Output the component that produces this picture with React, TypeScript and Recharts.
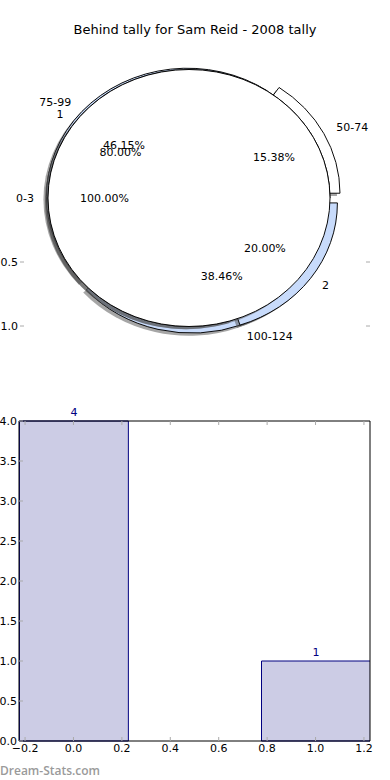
import React from "react";
import {
  Bar,
  Cell,
  ComposedChart,
  LabelList,
  Pie,
  PieChart,
  Sector,
  XAxis,
  YAxis,
} from "recharts";

const TITLE = "Behind tally for Sam Reid - 2008 tally";

// pie layers, drawn bottom to top
const RANGE_NAMES = ["50-74", "75-99", "100-124"];
const RANGE_COUNTS = [2, 6, 5];
const GAP_NAMES = ["1", "2"];
const GAP_COUNTS = [4, 1];
const START_NAMES = ["0-3"];
const START_COUNTS = [1];
const PIE_AXIS_TICKS = [0.5, 1.0];

// histogram below
const BIN_X = [0, 1];
const BIN_COUNTS = [4, 1];
const X_TICKS = [-0.2, 0, 0.2, 0.4, 0.6, 0.8, 1.0, 1.2];
const Y_TICKS = [0, 0.5, 1, 1.5, 2, 2.5, 3, 3.5, 4];

const FONT = "'DejaVu Sans', sans-serif";
const TICK_GRAY = "#aaaaaa";
const WHITE = "#ffffff";
const PALE = "#c8dbfb";
const CX = 189;
const CY = 198;
const R = 141;
const SQUASH = 128.5 / 141; // pie axes are not square
const BAR_W = 0.45;
const X_DOMAIN = [-0.225, 1.225];

const LAYERS = [
  { key: "range", names: RANGE_NAMES, counts: RANGE_COUNTS, colors: [WHITE, PALE, PALE], explode: [0.08, 0.015, 0.055] },
  { key: "gap", names: GAP_NAMES, counts: GAP_COUNTS, colors: [WHITE, PALE], explode: [0, 0.065] },
  { key: "start", names: START_NAMES, counts: START_COUNTS, colors: [WHITE], explode: [0] },
];

const rows = (l: any) => l.names.map((name: string, i: number) => ({ name, value: l.counts[i] }));

const explodeOf = (l: any, p: any) => l.explode[l.names.indexOf(p.name ?? p.payload?.name)] ?? 0;

function explodeShape(l: any) {
  return (p: any) => {
    const e = explodeOf(l, p);
    const a = (-p.midAngle * Math.PI) / 180;
    const cx = p.cx + e * p.outerRadius * Math.cos(a);
    const cy = p.cy + e * p.outerRadius * Math.sin(a);
    if (Math.abs(p.endAngle - p.startAngle) >= 359.99) {
      // a lone 100% wedge: no radial seam
      return (
        <circle cx={cx} cy={cy} r={p.outerRadius} fill={p.fill} fillOpacity={p.fillOpacity}
          stroke={p.stroke} strokeWidth={p.strokeWidth} />
      );
    }
    return <Sector {...p} cx={cx} cy={cy} />;
  };
}

function pieLabel(l: any) {
  return (p: any) => {
    const e = explodeOf(l, p);
    const a = (-p.midAngle * Math.PI) / 180;
    const c = Math.cos(a);
    const s = Math.sin(a);
    const r = p.outerRadius;
    const unsquash = `scale(1 ${1 / SQUASH})`;
    return (
      <g>
        <text
          transform={`translate(${p.cx + (1.1 + e) * r * c} ${p.cy + (1.1 + e) * r * s}) ${unsquash}`}
          textAnchor={c > 0 ? "start" : "end"}
          dominantBaseline="central"
          fontFamily={FONT}
          fontSize={11}
          fill="#000"
        >
          {p.name}
        </text>
        <text
          transform={`translate(${p.cx + (0.6 + e) * r * c} ${p.cy + (0.6 + e) * r * s}) ${unsquash}`}
          textAnchor="middle"
          dominantBaseline="central"
          fontFamily={FONT}
          fontSize={11}
          fill="#000"
        >
          {(p.percent * 100).toFixed(2)}%
        </text>
      </g>
    );
  };
}

const fmt = (v: number) => (v < 0 ? "\u2212" : "") + Math.abs(v).toFixed(1);

function BottomTick({ x, y, payload }: any) {
  return (
    <g>
      <line x1={x} x2={x} y1={y} y2={y - 4} stroke={TICK_GRAY} />
      <text x={x} y={y + 3} dy="0.75em" textAnchor="middle" fontFamily={FONT} fontSize={11} fill="#000">
        {fmt(payload.value)}
      </text>
    </g>
  );
}
function TopTick({ x, y }: any) {
  return <line x1={x} x2={x} y1={y} y2={y + 4} stroke={TICK_GRAY} />;
}
function LeftTick({ x, y, payload }: any) {
  return (
    <g>
      <line x1={x} x2={x + 4} y1={y} y2={y} stroke={TICK_GRAY} />
      <text x={x - 2} y={y} textAnchor="end" dominantBaseline="central" fontFamily={FONT} fontSize={11} fill="#000">
        {fmt(payload.value)}
      </text>
    </g>
  );
}
function RightTick({ x, y }: any) {
  return <line x1={x - 4} x2={x} y1={y} y2={y} stroke={TICK_GRAY} />;
}

const thin = { axisLine: { stroke: "#000" }, tickLine: false, tickSize: 0, tickMargin: 0, interval: 0 as const };

export default function App() {
  const bins = BIN_X.map((x, i) => ({ x, count: BIN_COUNTS[i] }));
  const plotW = 390 - 19 - 20;
  const barSize = (BAR_W * plotW) / (X_DOMAIN[1] - X_DOMAIN[0]);

  return (
    <div style={{ position: "absolute", left: 0, top: 0, width: 390, height: 780, background: "#fff", fontFamily: FONT }}>
      <div style={{ position: "absolute", top: 22, left: 0, width: 390, textAlign: "center", fontSize: 13 }}>{TITLE}</div>

      {/* leftover y ticks of the pie axes */}
      <div style={{ position: "absolute", left: 0, top: 0 }}>
        <ComposedChart width={390} height={400} data={[{ v: 0 }]} margin={{ top: 70, bottom: 74, left: 19, right: 19 }}>
          <XAxis type="number" domain={[0, 1]} hide />
          <YAxis yAxisId="l" type="number" domain={[-1, 1]} reversed allowDataOverflow ticks={PIE_AXIS_TICKS} width={1}
            {...thin} axisLine={false} tick={<LeftTick />} />
          <YAxis yAxisId="r" orientation="right" type="number" domain={[-1, 1]} reversed allowDataOverflow ticks={PIE_AXIS_TICKS}
            width={1} {...thin} axisLine={false} tick={<RightTick />} />
        </ComposedChart>
      </div>

      <div style={{ position: "absolute", left: 0, top: 0, transform: `scaleY(${SQUASH})`, transformOrigin: `0 ${CY}px` }}>
        <PieChart width={390} height={400} margin={{ top: 0, right: 0, bottom: 0, left: 0 }}>
          {LAYERS.flatMap((l) => [
            <Pie key={l.key + "-shadow"} data={rows(l)} dataKey="value" nameKey="name" cx={CX - 3} cy={CY + 3}
              outerRadius={R} stroke="none" fill="#4d4d4d" fillOpacity={0.5} isAnimationActive={false}
              shape={explodeShape(l)} legendType="none" />,
            <Pie key={l.key} data={rows(l)} dataKey="value" nameKey="name" cx={CX} cy={CY} outerRadius={R}
              stroke="#000" strokeWidth={1} isAnimationActive={false} shape={explodeShape(l)} legendType="none">
              {l.names.map((n, i) => <Cell key={n} fill={l.colors[i]} />)}
            </Pie>,
          ])}
          {LAYERS.map((l) => (
            <Pie key={l.key + "-labels"} data={rows(l)} dataKey="value" nameKey="name" cx={CX} cy={CY} outerRadius={R}
              fill="none" stroke="none" isAnimationActive={false} labelLine={false} label={pieLabel(l)} legendType="none" />
          ))}
        </PieChart>
      </div>

      <div style={{ position: "absolute", left: 0, top: 400 }}>
        <ComposedChart width={390} height={380} data={bins} margin={{ top: 20, right: 19, bottom: 38, left: 18 }}>
          <XAxis xAxisId="b" dataKey="x" type="number" domain={X_DOMAIN} ticks={X_TICKS} allowDataOverflow
            height={1} {...thin} tick={<BottomTick />} />
          <XAxis xAxisId="t" orientation="top" dataKey="x" type="number" domain={X_DOMAIN} ticks={X_TICKS} allowDataOverflow
            height={1} {...thin} tick={<TopTick />} />
          <YAxis yAxisId="l" type="number" domain={[0, 4]} ticks={Y_TICKS} width={1} {...thin} tick={<LeftTick />} />
          <YAxis yAxisId="r" orientation="right" type="number" domain={[0, 4]} ticks={Y_TICKS} width={1}
            {...thin} tick={<RightTick />} />
          <Bar xAxisId="b" yAxisId="l" dataKey="count" barSize={barSize} fill="#ccccE5" stroke="#000080"
            strokeWidth={1} isAnimationActive={false}>
            <LabelList dataKey="count" position="top" fill="#000080" fontSize={11} fontFamily={FONT} />
          </Bar>
        </ComposedChart>
      </div>

      <div style={{ position: "absolute", left: 0, top: 762, fontSize: 12, fontWeight: 600, color: "#9a9a9a", fontFamily: "'Open Sans', sans-serif" }}>
        Dream-Stats.com
      </div>
    </div>
  );
}
